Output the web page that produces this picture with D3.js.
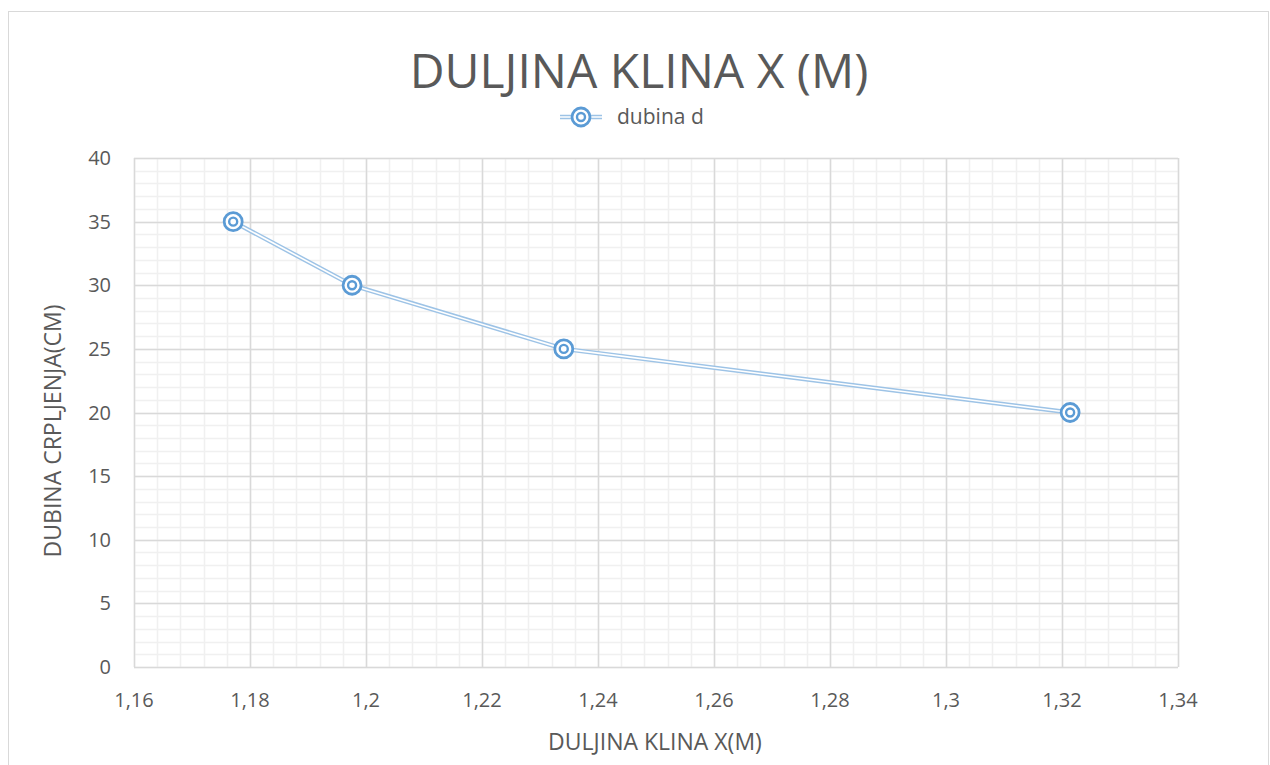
<!DOCTYPE html>
<html>
<head>
  <meta charset="utf-8">
  <script src="https://d3js.org/d3.v7.min.js"></script>
  <style>
    body { margin: 0; background: #fff; }
    text { font-family: "Open Sans", "Liberation Sans", sans-serif; fill: #595959; }
  </style>
</head>
<body>
<svg id="chart"></svg>
<script>
  // values
  var xValues = [1.1771, 1.1976, 1.2341, 1.3214];
  var depthValues = [35, 30, 25, 20];
  var xTicks = [1.16, 1.18, 1.2, 1.22, 1.24, 1.26, 1.28, 1.3, 1.32, 1.34];
  var yTicks = [0, 5, 10, 15, 20, 25, 30, 35, 40];
  var seriesName = "dubina d";

  var width = 1270, height = 765;
  var svg = d3.select("#chart").attr("width", width).attr("height", height);

  // chart frame
  svg.append("rect")
    .attr("x", 8.5).attr("y", 11.5)
    .attr("width", 1260).attr("height", 770)
    .attr("fill", "#fff").attr("stroke", "#d9d9d9");

  var x = d3.scaleLinear().domain([1.16, 1.34]).range([134, 1178]);
  var y = d3.scaleLinear().domain([0, 40]).range([667, 158]);

  var g = svg.append("g");

  // minor grid
  var minorX = d3.range(1.16, 1.3401, 0.004);
  var minorY = d3.range(0, 40.01, 1);
  g.selectAll(".mx").data(minorX).enter().append("line")
    .attr("x1", d => Math.round(x(d)) + 0.5).attr("x2", d => Math.round(x(d)) + 0.5)
    .attr("y1", y(0)).attr("y2", y(40))
    .attr("stroke", "#f0f0f0").attr("stroke-width", 1.5);
  g.selectAll(".my").data(minorY).enter().append("line")
    .attr("y1", d => Math.round(y(d)) + 0.5).attr("y2", d => Math.round(y(d)) + 0.5)
    .attr("x1", x(1.16)).attr("x2", x(1.34))
    .attr("stroke", "#f0f0f0").attr("stroke-width", 1.5);

  // major grid
  g.selectAll(".gx").data(xTicks).enter().append("line")
    .attr("x1", d => Math.round(x(d)) + 0.5).attr("x2", d => Math.round(x(d)) + 0.5)
    .attr("y1", y(0)).attr("y2", y(40))
    .attr("stroke", "#d9d9d9").attr("stroke-width", 1.5);
  g.selectAll(".gy").data(yTicks).enter().append("line")
    .attr("y1", d => Math.round(y(d)) + 0.5).attr("y2", d => Math.round(y(d)) + 0.5)
    .attr("x1", x(1.16)).attr("x2", x(1.34))
    .attr("stroke", "#d9d9d9").attr("stroke-width", 1.5);

  // tick labels
  var fmt = d => String(+d.toFixed(2)).replace(".", ",");
  g.selectAll(".tx").data(xTicks).enter().append("text")
    .attr("x", d => x(d)).attr("y", 707)
    .attr("text-anchor", "middle").attr("font-size", 20)
    .text(fmt);
  g.selectAll(".ty").data(yTicks).enter().append("text")
    .attr("x", 111).attr("y", d => y(d) + 7)
    .attr("text-anchor", "end").attr("font-size", 20)
    .text(d => d);

  // series: double line
  var pts = xValues.map((v, i) => [v, depthValues[i]]);
  var line = d3.line().x(d => x(d[0])).y(d => y(d[1]));
  g.append("path").attr("d", line(pts))
    .attr("fill", "none").attr("stroke", "#9dc3e6").attr("stroke-width", 4.5);
  g.append("path").attr("d", line(pts))
    .attr("fill", "none").attr("stroke", "#fff").attr("stroke-width", 1.6);

  // markers
  function marker(sel) {
    sel.append("circle").attr("r", 9).attr("fill", "#fff")
      .attr("stroke", "#5b9bd5").attr("stroke-width", 2.8);
    sel.append("circle").attr("r", 4).attr("fill", "none")
      .attr("stroke", "#5b9bd5").attr("stroke-width", 2.4);
  }
  g.selectAll(".pt").data(pts).enter().append("g")
    .attr("transform", d => "translate(" + x(d[0]) + "," + y(d[1]) + ")")
    .call(marker);

  // title
  svg.append("text").attr("x", 639).attr("y", 88)
    .attr("text-anchor", "middle").attr("font-size", 48)
    .text("DULJINA KLINA X (M)");

  // legend
  var lg = svg.append("g").attr("transform", "translate(581,117)");
  lg.append("line").attr("x1", -21).attr("x2", 21)
    .attr("stroke", "#9dc3e6").attr("stroke-width", 4.5);
  lg.append("line").attr("x1", -21).attr("x2", 21)
    .attr("stroke", "#fff").attr("stroke-width", 1.6);
  lg.call(marker);
  lg.append("text").attr("x", 36).attr("y", 7).attr("font-size", 21).text(seriesName);

  // axis titles
  svg.append("text").attr("x", 655).attr("y", 750)
    .attr("text-anchor", "middle").attr("font-size", 23)
    .text("DULJINA KLINA X(M)");
  svg.append("text")
    .attr("transform", "translate(61,431) rotate(-90)")
    .attr("text-anchor", "middle").attr("font-size", 23)
    .text("DUBINA CRPLJENJA(CM)");
</script>
</body>
</html>
